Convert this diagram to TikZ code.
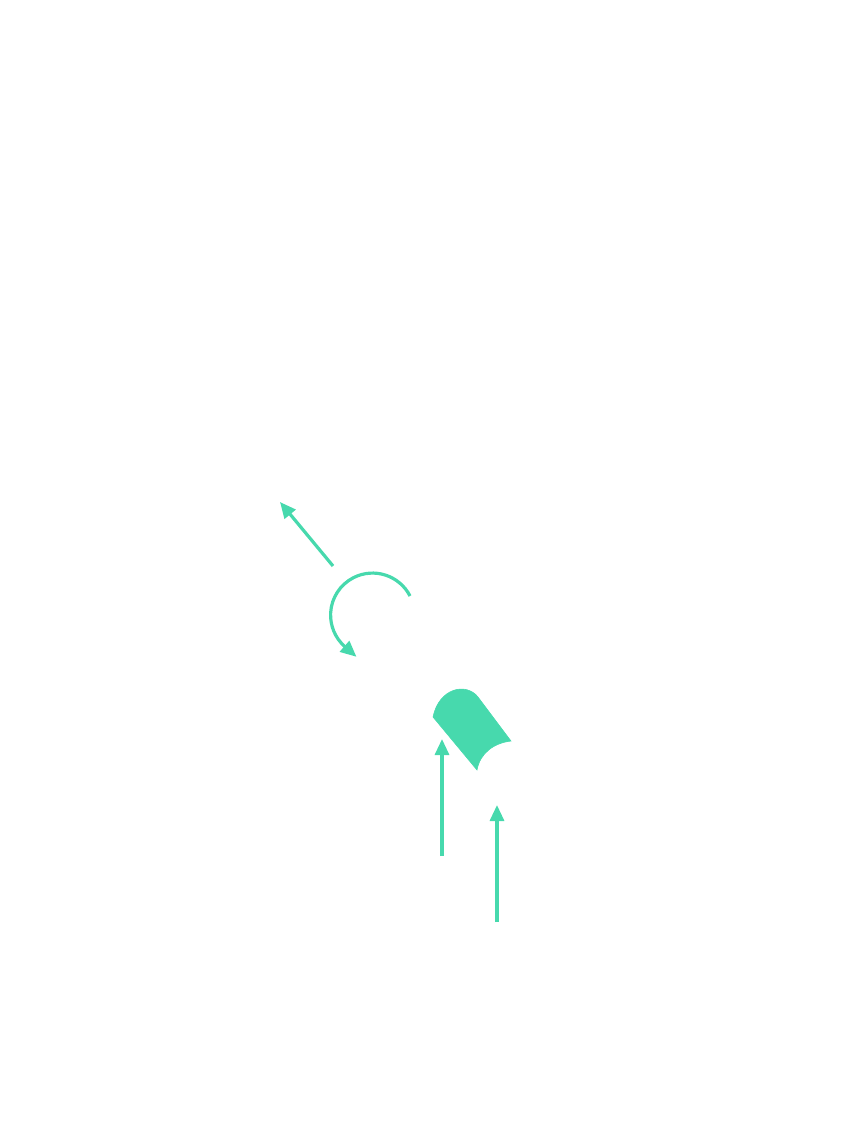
\documentclass[tikz,border=0pt]{standalone}
\usepackage{tikz}
\usetikzlibrary{arrows.meta}
\definecolor{mintgreen}{HTML}{47D9AD}

\begin{document}
\begin{tikzpicture}[x=1pt,y=-1pt]

\tikzset{
forcearrow/.style={
draw=mintgreen,
line width=3.2pt,
-{Triangle[length=16pt,width=14pt]}
},
shellpart/.style={
fill=mintgreen,
draw=mintgreen,
line width=0.6pt
}
}

\useasboundingbox (0,0) rectangle (859,1130);

%--------------------------------------------------
% CURVED SHELL
%--------------------------------------------------

\coordinate (shellA) at (433,717);
\coordinate (shellB) at (478,697);
\coordinate (shellC) at (511,741);
\coordinate (shellD) at (477,770);

\path[shellpart] (shellA)
.. controls (439,688) and (466,682) .. (shellB)
-- (shellC)
.. controls (494,743) and (480,753) .. (shellD)
-- cycle;

%--------------------------------------------------
% PULL ARROW
%--------------------------------------------------

\coordinate (pullstart) at (333,566);
\coordinate (pullend) at (280,502);
\draw[forcearrow] (pullstart) -- (pullend);

%--------------------------------------------------
% TURN ARROW
%--------------------------------------------------

\coordinate (turnstart) at (410,596);
\draw[forcearrow] (turnstart)
arc[start angle=-27,end angle=-228,radius=42]
-- ++(12,10.5);

%--------------------------------------------------
% PUSH ARROWS
%--------------------------------------------------

\coordinate (pushAstart) at (442,856);
\coordinate (pushAend) at (442,739);
\draw[forcearrow] (pushAstart) -- (pushAend);

\coordinate (pushBstart) at (497,922);
\coordinate (pushBend) at (497,805);
\draw[forcearrow] (pushBstart) -- (pushBend);

\end{tikzpicture}
\end{document}
